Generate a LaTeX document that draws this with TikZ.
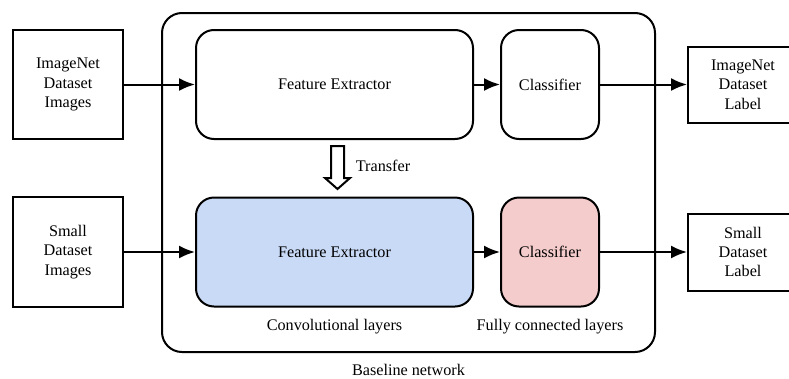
\documentclass[tikz,border=0pt]{standalone}
\usepackage{fontspec}
\setmainfont{Liberation Serif}
\newfontfamily\timesfont{Liberation Serif}
\usetikzlibrary{arrows.meta,positioning}
\definecolor{ExtractBlue}{RGB}{201,218,246}
\definecolor{ClassPink}{RGB}{244,204,204}

\begin{document}
\begin{tikzpicture}[x=1pt,y=-1pt,>={Latex[length=16pt,width=13pt]},line width=2pt,
    every node/.style={font=\timesfont\fontsize{16.2}{19.3}\selectfont},
    databox/.style={draw,minimum width=110pt,align=center,inner sep=0pt},
    block/.style={draw,rounded corners=18pt,minimum height=109pt,align=center,inner sep=0pt}]
      \useasboundingbox (0,0) rectangle (789,378);
      % baseline network frame
      \node[draw,rounded corners=20pt,minimum width=493pt,minimum height=339pt] (net) at (408.5,182.5) {};
      % ImageNet branch
      \node[databox,minimum height=109pt] (imgA) at (68,84.5) {ImageNet\\Dataset\\Images};
      \node[block,minimum width=277pt] (feA) at (334.5,84.5) {Feature Extractor};
      \node[block,minimum width=98pt] (clsA) at (550,84.5) {Classifier};
      \node[databox,minimum height=76pt] (labA) at (743,84.5) {ImageNet\\Dataset\\Label};
      % small dataset branch
      \node[databox,minimum height=110pt] (imgB) at (68,252) {Small\\Dataset\\Images};
      \node[block,fill=ExtractBlue,minimum width=277pt] (feB) at (334.5,252) {Feature Extractor};
      \node[block,fill=ClassPink,minimum width=98pt] (clsB) at (550,252) {Classifier};
      \node[databox,minimum height=77pt] (labB) at (743,252) {Small\\Dataset\\Label};
      \draw[->] (imgA) -- (feA);
      \draw[->] (feA) -- (clsA);
      \draw[->] (clsA) -- (labA);
      \draw[->] (imgB) -- (feB);
      \draw[->] (feB) -- (clsB);
      \draw[->] (clsB) -- (labB);
      % transfer
      \draw[shift={(337.5,146)},line join=miter] (-6.5,0) -- (6.5,0) -- (6.5,32) -- (12.5,32)
        -- (0,43) -- (-12.5,32) -- (-6.5,32) -- cycle;
      \node (trans) at (383,166) {Transfer};
      \node (conv) at (334.5,327) {Convolutional layers};
      \node (fc) at (550,327) {Fully connected layers};
      \node (base) at (408.5,370) {Baseline network};
    \end{tikzpicture}
\end{document}
